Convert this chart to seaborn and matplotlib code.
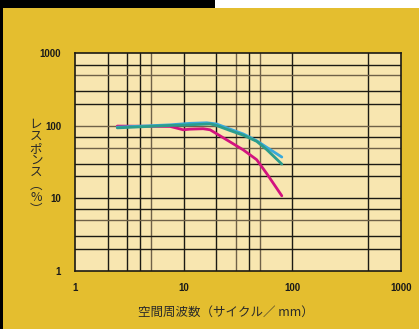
import matplotlib
matplotlib.use("Agg")
import matplotlib.pyplot as plt
import seaborn as sns
import pandas as pd
from matplotlib.patches import Rectangle

# ---- data ----
mag_x = [2.45, 7.5, 9.9, 11.4, 15.1, 17.5, 20, 26.7, 35.4, 47, 58, 80]
mag_y = [99, 98, 88, 89.7, 91, 88, 78, 60, 46.4, 34, 22, 10.8]
cyan_x = [2.45, 7.5, 11.4, 16.3, 20, 26.7, 35.4, 47, 58, 80]
cyan_y = [95.6, 103, 108, 110, 106, 90, 77, 62, 50.5, 37]
green_x = [2.45, 7.5, 11.4, 17.5, 20, 26.7, 35.4, 47, 58, 80]
green_y = [93.5, 101, 103, 106, 101, 86, 74, 61, 47, 29.6]

series_names = ["magenta", "cyan", "green"]
series_colors = ["#d3137f", "#3aa9dc", "#2c9d8c"]

x_major = [1, 10, 100, 1000]
x_major_labels = ["1", "10", "100", "1000"]
y_major = [1, 10, 100, 1000]
y_major_labels = ["1", "10", "100", "1000"]
x_grid_dark = [2, 3, 4, 10, 20, 40, 100, 500]
x_grid_gray = [5, 30, 50]
y_grid_dark = [2, 3, 7, 10, 20, 30, 70, 200, 300, 700]
y_grid_gray = [5, 50, 100, 500]
x_short = [6, 7, 8, 9, 60, 70, 80, 90, 300, 600, 700, 800, 900]
y_short = [4, 6, 8, 9, 40, 60, 80, 90, 400, 600, 800, 900]

xlabel = "空間周波数（サイクル／ mm）"
ylabel_chars = ["レ", "ス", "ポ", "ン", "ス", "︵", "%", "︶"]

# ---- build long table ----
rows = []
for name, xs, ys in zip(series_names, [mag_x, cyan_x, green_x], [mag_y, cyan_y, green_y]):
    for xv, yv in zip(xs, ys):
        rows.append({"series": name, "x": xv, "y": yv})
df = pd.DataFrame(rows)

sns.set_theme(style="white")
plt.rcParams["font.family"] = ["Noto Sans CJK JP", "DejaVu Sans"]

W, H = 419, 329
fig = plt.figure(figsize=(W / 100, H / 100), dpi=100)
bg = "#e4be2f"
fig.patch.set_facecolor(bg)

# top bands and left strip
fig.patches.append(Rectangle((0, 1 - 8 / H), 215 / W, 8 / H, transform=fig.transFigure,
                             facecolor="black", edgecolor="none", zorder=0))
fig.patches.append(Rectangle((215 / W, 1 - 8 / H), 1 - 215 / W, 8 / H, transform=fig.transFigure,
                             facecolor="white", edgecolor="none", zorder=0))
fig.patches.append(Rectangle((0, 0), 3 / W, 1, transform=fig.transFigure,
                             facecolor="black", edgecolor="none", zorder=0))

left, right = 75 / W, 401 / W
top, bottom = 1 - 53.3 / H, 1 - 270.7 / H
ax = fig.add_axes([left, bottom, right - left, top - bottom])
ax.set_facecolor("#f8e6b0")
ax.set_xscale("log")
ax.set_yscale("log")
ax.set_xlim(1, 1000)
ax.set_ylim(1, 1000)

dark = "#1c1a14"
gray = "#6f6148"
for v in x_grid_dark:
    ax.axvline(v, color=dark, lw=1.0, zorder=1)
for v in x_grid_gray:
    ax.axvline(v, color=gray, lw=1.0, zorder=1)
for v in y_grid_dark:
    ax.axhline(v, color=dark, lw=1.0, zorder=1)
for v in y_grid_gray:
    ax.axhline(v, color=gray, lw=1.0, zorder=1)

sns.lineplot(data=df, x="x", y="y", hue="series", hue_order=series_names,
             palette=series_colors, sort=False, estimator=None, legend=False,
             linewidth=2.0, ax=ax, zorder=3)

ax.set_xticks(x_major)
ax.set_xticklabels(x_major_labels)
ax.set_yticks(y_major)
ax.set_yticklabels(y_major_labels)
ax.set_xticks(x_short, minor=True)
ax.set_yticks(y_short, minor=True)
ax.tick_params(axis="both", which="major", length=0, labelsize=7, colors="#1a1a1a")
ax.tick_params(axis="x", which="major", pad=9)
ax.tick_params(axis="y", which="major", pad=10)
ax.tick_params(axis="both", which="minor", direction="in", length=4, width=1.0,
               color=dark, labelsize=0)
ax.tick_params(axis="x", which="minor", labelbottom=False)
ax.tick_params(axis="y", which="minor", labelleft=False)
for lab in ax.get_xticklabels() + ax.get_yticklabels():
    lab.set_fontweight("bold")
    lab.set_family(["Liberation Sans", "DejaVu Sans"])

for s in ax.spines.values():
    s.set_color(dark)
    s.set_linewidth(1.2)

ax.set_xlabel("")
ax.set_ylabel("")

fig.text(226 / W, 1 - 312 / H, xlabel, ha="center", va="center", fontsize=9,
         color="#2a2a2a")
y0 = 124
for i, ch in enumerate(ylabel_chars):
    fig.text(36 / W, 1 - (y0 + i * 12.2) / H, ch, ha="center", va="center",
             fontsize=9, color="#2a2a2a")

fig.savefig("out.png", dpi=100, facecolor=fig.get_facecolor())
